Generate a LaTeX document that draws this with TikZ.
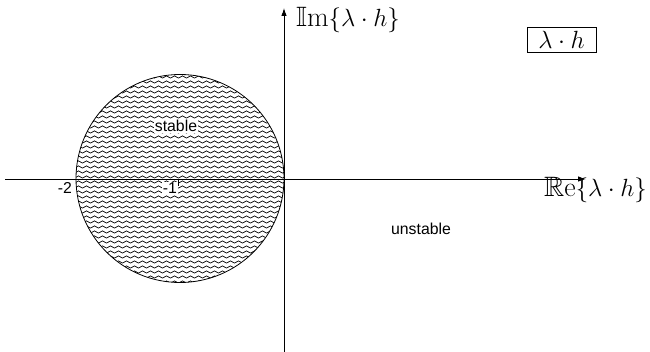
\documentclass[tikz,border=0pt]{standalone}
\usepackage{amsmath,amssymb}
\usepackage{fontspec}
\newfontfamily\labfont{Liberation Sans}
\usetikzlibrary{arrows.meta,decorations.pathmorphing}
\begin{document}
\begin{tikzpicture}[x=1pt,y=-1pt,
  axis/.style={line width=0.9pt,-{Latex[length=8pt,width=5.5pt]}},
  wave/.style={line width=0.7pt,decorate,decoration={snake,segment length=8pt,amplitude=1.1pt}},
  sanslab/.style={font=\labfont\fontsize{15.8}{18}\selectfont,inner sep=1pt},
  mathlab/.style={font=\fontsize{28}{32}\selectfont,inner sep=0pt}]
\useasboundingbox (0,0) rectangle (650,352);
% hatched circle
\begin{scope}
  \clip (180,178.5) circle (104);
  \foreach \yy in {72,77,...,290}
    \draw[wave] (60,\yy) -- (300,\yy);
\end{scope}
\node[circle,draw,line width=0.8pt,minimum size=208pt,inner sep=0pt] (disc) at (180,178.5) {};
% axes
\coordinate (xs) at (5,179);
\coordinate (xe) at (586,179);
\coordinate (ys) at (284,352);
\coordinate (ye) at (284,8);
\draw[axis] (xs) -- (xe);
\draw[axis] (ys) -- (ye);
% tick at -1
\coordinate (t1) at (178.5,179);
\coordinate (t1b) at (178.5,186);
\draw[line width=0.6pt] (t1) -- (t1b);
% labels
\node[sanslab,fill=white] (m2) at (65,188) {-2};
\node[sanslab,fill=white] (m1) at (170,188) {-1};
\node[sanslab,fill=white] (st) at (176,126) {stable};
\node[sanslab] (un) at (421,229) {unstable};
\node[mathlab,anchor=west] (re) at (544,190) {$\mathbb{R}\mathrm{e}\{\lambda\cdot h\}$};
\node[mathlab,anchor=west] (im) at (296,20) {$\mathbb{I}\mathrm{m}\{\lambda\cdot h\}$};
\node[mathlab,draw,line width=0.6pt,minimum width=69pt,minimum height=25pt] (box) at (561.5,39.5) {$\lambda\cdot h$};
\end{tikzpicture}
\end{document}
